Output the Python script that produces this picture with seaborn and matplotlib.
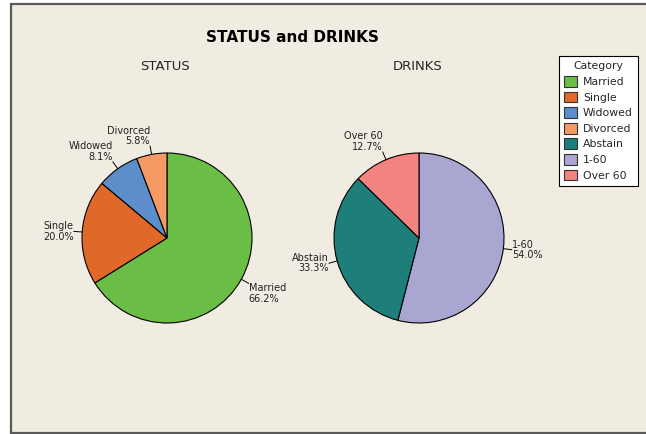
import numpy as np
import matplotlib
matplotlib.use("Agg")
import matplotlib.pyplot as plt
from matplotlib.patches import Patch, Rectangle
import seaborn as sns

# Data
status_labels = ["Married", "Single", "Widowed", "Divorced"]
status_pct = [66.2, 20.0, 8.1, 5.8]
drinks_labels = ["1-60", "Abstain", "Over 60"]
drinks_pct = [54.0, 33.3, 12.7]
legend_order = ["Married", "Single", "Widowed", "Divorced", "Abstain", "1-60", "Over 60"]

sns.set_theme(style="white")
plt.rcParams['font.family'] = ['DejaVu Sans']

colors = dict(zip(legend_order, sns.color_palette(
    ["#6BBE45", "#E0692A", "#5B8ECB", "#F59A64", "#1E7F7A", "#A9A6D2", "#F38380"])))

bg = "#F0ECE2"
W, H = 646, 434
fig = plt.figure(figsize=(W / 100, H / 100), dpi=100, facecolor="white")

# framed beige panel
fig.patches.append(Rectangle((10.5 / W, 1 / H), (W + 5) / W, (H - 5) / H,
                             transform=fig.transFigure, facecolor=bg,
                             edgecolor="#5a5a5a", linewidth=1.6, zorder=-5))


def pie_axes(cx, cy, r=85):
    ax = fig.add_axes([(cx - r) / W, (H - cy - r) / H, 2 * r / W, 2 * r / H])
    ax.set_zorder(2)
    return ax


def draw_pie(ax, labels, values):
    wedges, _ = ax.pie(values, colors=[colors[l] for l in labels], startangle=90,
                       counterclock=False, radius=1,
                       wedgeprops=dict(edgecolor="black", linewidth=0.8))
    ax.set_xlim(-1, 1)
    ax.set_ylim(-1, 1)
    ax.set_aspect("equal")
    ax.axis("off")
    for w, lab, v in zip(wedges, labels, values):
        ang = np.deg2rad((w.theta1 + w.theta2) / 2)
        c, s = np.cos(ang), np.sin(ang)
        ax.plot([c * 1.0, c * 1.1], [s * 1.0, s * 1.1], color="black", lw=0.7,
                clip_on=False)
        ha = "left" if c > 0 else "right"
        if s > 0.5:
            va = "bottom"
        elif s < -0.3:
            va = "top"
        else:
            va = "center"
        ax.text(c * 1.1, s * 1.1, f"{lab}\n{v:.1f}%", ha=ha, va=va,
                multialignment="left" if c > 0 else "right",
                fontsize=7, linespacing=1.05, color="#222222", clip_on=False)


ax1 = pie_axes(167, 238)
draw_pie(ax1, status_labels, status_pct)
ax2 = pie_axes(419, 238)
draw_pie(ax2, drinks_labels, drinks_pct)

fig.text(292 / W, 1 - 37 / H, "STATUS and DRINKS", ha="center", va="center",
         fontsize=11, fontweight="bold", color="black")
fig.text(165 / W, 1 - 66 / H, "STATUS", ha="center", va="center", fontsize=9.5)
fig.text(418 / W, 1 - 66 / H, "DRINKS", ha="center", va="center", fontsize=9.5)

handles = [Patch(facecolor=colors[l], edgecolor="#333333", linewidth=0.8, label=l)
           for l in legend_order]
leg = fig.legend(handles=handles, title="Category", loc="upper left",
                 bbox_to_anchor=(559 / W, 1 - 56 / H), fontsize=7.8,
                 title_fontsize=7.8, frameon=True, fancybox=False,
                 borderpad=0.5, labelspacing=0.42, handlelength=1.2,
                 handleheight=1.15, handletextpad=0.5, borderaxespad=0)
leg.get_frame().set_edgecolor("black")
leg.get_frame().set_linewidth(0.8)
leg.get_frame().set_facecolor("white")
leg.get_frame().set_alpha(1)

fig.savefig("out.png", dpi=100, facecolor="white")
